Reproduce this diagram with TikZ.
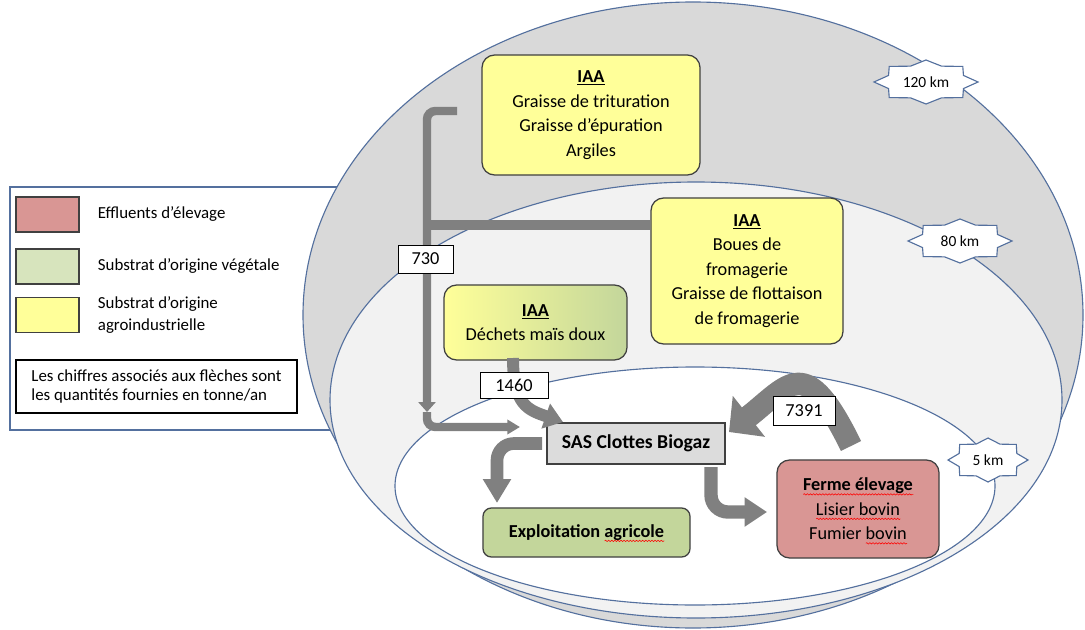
\documentclass[tikz,border=0pt]{standalone}
\usepackage{fontspec}
\setmainfont{Carlito}
\usetikzlibrary{arrows.meta,positioning,decorations.pathmorphing}
\definecolor{ringline}{RGB}{84,112,158}
\definecolor{ringouter}{RGB}{217,217,217}
\definecolor{ringmid}{RGB}{242,242,242}
\definecolor{boxline}{RGB}{64,64,64}
\definecolor{yellowsub}{RGB}{255,255,153}
\definecolor{greensub}{RGB}{195,214,155}
\definecolor{greenleg}{RGB}{215,228,189}
\definecolor{pinksub}{RGB}{217,150,148}
\definecolor{sasgray}{RGB}{220,220,220}
\definecolor{flowgray}{RGB}{128,128,128}
\newcommand\redwave[1]{\setbox0\hbox{#1}\rlap{\smash{\tikz[baseline=0pt,x=1pt,y=1pt,sharp corners]
  \draw[red,line width=0.4pt,sharp corners,decorate,decoration={snake,amplitude=0.5pt,segment length=2.2pt}]
  (0,-2.5) -- (\the\wd0,-2.5);}}#1}

\begin{document}
\begin{tikzpicture}[x=0.025cm,y=-0.025cm,
ring/.style={draw=ringline,line width=0.8pt},
subbox/.style={draw=boxline,line width=0.9pt,rounded corners=9pt,align=center,
  font=\fontsize{13}{17.4}\selectfont},
qty/.style={draw=black,fill=white,line width=0.7pt,inner sep=0pt,
  font=\fontsize{13}{15}\selectfont},
swatch/.style={draw=boxline,line width=0.9pt,minimum width=1.575cm,minimum height=0.875cm},
legtext/.style={anchor=west,align=left,inner sep=0pt,font=\fontsize{12}{15.6}\selectfont},
pipe/.style={draw=flowgray,line width=#1},
kmlabel/.style={font=\fontsize{11}{13}\selectfont}]
\useasboundingbox (0,0) rectangle (1085,630);

\draw[ring] (10,187) rectangle (400,430);
\draw[ring,fill=ringouter] (693,315) ellipse [x radius=390,y radius=313];
\draw[ring,fill=ringmid] (696,400) ellipse [x radius=366,y radius=218];
\draw[ring,fill=white] (695,486) ellipse [x radius=300,y radius=119];

\foreach \cx/\cy/\hw/\d in {926/82/52/120,960/241/52/80,988/460/40/5}{
  \draw[ring,fill=white,shift={(\cx,\cy)}] (\hw,0)
    \foreach \k in {1,...,15}{ -- ({\hw*(0.89+0.11*cos(\k*180))*cos(\k*22.5)},{22*(0.89+0.11*cos(\k*180))*sin(\k*22.5)}) } -- cycle;
  \node[kmlabel] (km\d) at (\cx,\cy) {\d\ km};
}

\node[swatch,fill=pinksub] (sw1) at (47.5,214.5) {};
\node[legtext,right=0.45cm of sw1] (leg1) {Effluents d’élevage};
\node[swatch,fill=greenleg] (sw2) at (47.5,266.5) {};
\node[legtext,right=0.45cm of sw2] (leg2) {Substrat d’origine végétale};
\node[swatch,fill=yellowsub] (sw3) at (47.5,315) {};
\node[legtext,right=0.45cm of sw3] (leg3) {Substrat d’origine\\agroindustrielle};
\node[draw=black,line width=0.8pt,minimum width=7.025cm,minimum height=1.325cm,
  align=left,font=\fontsize{12}{14.2}\selectfont]
  (note) at (156.5,386.5) {Les chiffres associés aux flèches sont\\les quantités fournies en tonne/an};

\node[subbox,fill=yellowsub,minimum width=5.45cm,minimum height=3cm] (iaa1) at (591,115)
  {\underline{\textbf{IAA}}\\Graisse de trituration\\Graisse d’épuration\\Argiles};
\node[subbox,fill=yellowsub,minimum width=4.8cm,minimum height=3.65cm] (iaa2) at (747,271)
  {\underline{\textbf{IAA}}\\Boues de\\fromagerie\\Graisse de flottaison\\de fromagerie};
\node[subbox,left color=yellowsub,right color=greensub,minimum width=4.575cm,minimum height=1.875cm]
  (iaa3) at (535.5,322.5) {\underline{\textbf{IAA}}\\Déchets maïs doux};
\node[draw=boxline,line width=0.9pt,fill=sasgray,minimum width=4.45cm,minimum height=1.025cm,
  font=\bfseries\fontsize{14}{16}\selectfont] (sas) at (636,443.5) {SAS Clottes Biogaz};
\node[subbox,fill=greensub,rounded corners=6pt,minimum width=5.175cm,minimum height=1.225cm,
  font=\bfseries\fontsize{13}{16}\selectfont] (agri) at (586.5,532.5) {Exploitation \redwave{agricole}};
\node[subbox,fill=pinksub,minimum width=4.05cm,minimum height=2.45cm] (ferme) at (858,509)
  {\textbf{\redwave{Ferme élevage}}\\\redwave{Lisier bovin}\\Fumier \redwave{bovin}};

\coordinate (a0) at (457,111);
\coordinate (a1) at (427,225);
\coordinate (a2) at (427,412);
\coordinate (a3) at (520,427);
\coordinate (b0) at (513,358);
\coordinate (b1) at (563,422);
\coordinate (c0) at (851,446);
\coordinate (c1) at (729,432);
\coordinate (d1) at (497,503);
\coordinate (e0) at (711,467);
\coordinate (e1) at (767,512);

\draw[pipe=6pt,rounded corners=6pt,-{Triangle[width=12pt,length=7pt]}] (a0) -- (a0 -| a1) -- (a2);
\draw[pipe=7pt] (iaa2.west |- a1) -- (a1);
\draw[pipe=6pt,rounded corners=6pt,-{Triangle[width=10pt,length=9pt]}] (a2) |- (a3);
\draw[pipe=8.5pt,-{Triangle[width=18pt,length=13pt]}] (b0) .. controls (513,405) and (528,410) .. (b1);
\draw[pipe=16pt,-{Triangle[width=36pt,length=18pt]}] (c0) .. controls (805,352) and (790,384) .. (c1);
\draw[pipe=9pt,rounded corners=12pt,shorten <=3pt,-{Triangle[width=19pt,length=17pt]}] (sas.west) -| (d1);
\draw[pipe=9.5pt,rounded corners=12pt,-{Triangle[width=20pt,length=16pt]}] (e0) |- (e1);

\node[qty,minimum width=1.375cm,minimum height=0.7cm] (q730) at (425.5,259) {730};
\node[qty,minimum width=1.7cm,minimum height=0.65cm] (q1460) at (514,385) {1460};
\node[qty,minimum width=1.55cm,minimum height=0.725cm] (q7391) at (804,411) {7391};
\end{tikzpicture}
\end{document}
